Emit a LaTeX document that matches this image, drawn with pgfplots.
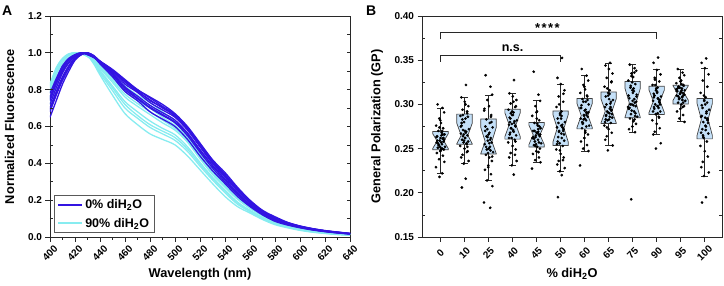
\documentclass[border=0pt]{standalone}
\usepackage{fontspec}
\setmainfont{Liberation Sans}
\usepackage{pgfplots}
\usepackage{pgfplotstable}
\pgfplotsset{compat=1.18}
\definecolor{dblue}{RGB}{50,20,225}
\definecolor{lcyan}{RGB}{135,236,240}
\definecolor{boxfill}{RGB}{196,224,248}
\definecolor{boxedge}{RGB}{64,64,64}
\definecolor{axgray}{RGB}{40,40,40}

\pgfplotstableread{
x   b1    b2    b3    b4    b5    b6    b7    b8    b9    c1    c2    c3    c4    c5    c6    c7    c8    c9
400 0.78  0.75  0.72  0.70  0.68  0.65  0.74  0.69  0.76  0.83  0.81  0.78  0.76  0.74  0.72  0.79  0.75  0.82
405 0.86  0.84  0.81  0.79  0.77  0.74  0.83  0.78  0.85  0.92  0.90  0.88  0.86  0.84  0.82  0.89  0.85  0.91
410 0.93  0.91  0.89  0.87  0.85  0.83  0.90  0.86  0.92  0.97  0.96  0.945 0.93  0.915 0.90  0.95  0.92  0.965
415 0.97  0.96  0.945 0.93  0.915 0.90  0.95  0.925 0.965 0.995 0.99  0.985 0.975 0.97  0.96  0.99  0.97  0.992
420 0.99  0.985 0.98  0.975 0.965 0.96  0.985 0.97  0.99  1.0   1.0   1.0   0.995 0.995 0.99  1.0   0.995 1.0
425 1.0   1.0   0.995 0.995 0.99  0.99  1.0   0.99  1.0   1.0   0.995 0.995 1.0   1.0   1.0   0.995 1.0   0.998
430 0.99  0.995 1.0   1.0   1.0   1.0   0.995 1.0   0.99  0.99  0.985 0.98  0.985 0.985 0.985 0.98  0.985 0.988
435 0.975 0.975 0.98  0.985 0.98  0.98  0.98  0.985 0.975 0.97  0.96  0.955 0.95  0.945 0.94  0.955 0.948 0.965
440 0.955 0.95  0.95  0.955 0.945 0.94  0.955 0.95  0.95  0.94  0.925 0.915 0.905 0.89  0.88  0.92  0.898 0.933
450 0.91  0.90  0.895 0.89  0.88  0.87  0.905 0.885 0.905 0.88  0.86  0.84  0.82  0.795 0.77  0.85  0.81  0.87
460 0.855 0.84  0.83  0.815 0.80  0.79  0.845 0.81  0.85  0.82  0.79  0.76  0.735 0.70  0.67  0.775 0.72  0.805
470 0.80  0.79  0.785 0.765 0.75  0.74  0.795 0.755 0.80  0.77  0.74  0.71  0.68  0.645 0.61  0.725 0.66  0.755
480 0.76  0.745 0.73  0.715 0.70  0.68  0.74  0.705 0.755 0.73  0.70  0.665 0.63  0.595 0.56  0.68  0.61  0.715
490 0.72  0.70  0.69  0.675 0.66  0.64  0.705 0.665 0.71  0.68  0.65  0.62  0.59  0.56  0.53  0.635 0.575 0.665
500 0.67  0.66  0.65  0.635 0.62  0.60  0.655 0.625 0.665 0.63  0.605 0.58  0.555 0.525 0.50  0.59  0.54  0.618
510 0.60  0.59  0.58  0.565 0.55  0.53  0.585 0.56  0.595 0.56  0.54  0.515 0.49  0.465 0.44  0.525 0.478 0.55
520 0.51  0.50  0.49  0.475 0.46  0.44  0.495 0.47  0.505 0.46  0.445 0.425 0.405 0.385 0.365 0.435 0.395 0.452
530 0.42  0.41  0.40  0.39  0.375 0.36  0.405 0.385 0.415 0.37  0.355 0.34  0.325 0.31  0.29  0.35  0.318 0.362
540 0.35  0.335 0.325 0.315 0.30  0.29  0.33  0.31  0.34  0.30  0.285 0.27  0.255 0.24  0.22  0.275 0.248 0.292
550 0.27  0.26  0.25  0.24  0.23  0.22  0.255 0.235 0.265 0.23  0.22  0.205 0.19  0.178 0.165 0.21  0.185 0.225
560 0.20  0.19  0.185 0.178 0.17  0.165 0.188 0.175 0.195 0.175 0.165 0.155 0.145 0.137 0.13  0.16  0.141 0.17
570 0.145 0.14  0.135 0.13  0.125 0.12  0.138 0.128 0.142 0.13  0.122 0.115 0.107 0.10  0.095 0.118 0.104 0.126
580 0.11  0.10  0.098 0.094 0.09  0.085 0.10  0.092 0.105 0.094 0.088 0.083 0.077 0.072 0.067 0.085 0.075 0.091
590 0.08  0.077 0.074 0.071 0.068 0.065 0.075 0.07  0.078 0.07  0.066 0.062 0.057 0.053 0.05  0.064 0.055 0.068
600 0.06  0.058 0.056 0.054 0.052 0.05  0.057 0.053 0.059 0.052 0.049 0.046 0.042 0.039 0.036 0.047 0.04  0.05
610 0.046 0.044 0.043 0.041 0.04  0.038 0.043 0.04  0.045 0.04  0.037 0.034 0.031 0.028 0.026 0.035 0.03  0.038
620 0.035 0.034 0.033 0.031 0.03  0.029 0.033 0.031 0.034 0.03  0.027 0.025 0.023 0.021 0.019 0.026 0.022 0.028
630 0.027 0.026 0.025 0.024 0.023 0.022 0.025 0.023 0.026 0.022 0.02  0.018 0.016 0.015 0.013 0.019 0.016 0.021
640 0.02  0.019 0.018 0.017 0.017 0.016 0.018 0.017 0.019 0.015 0.014 0.012 0.011 0.01  0.009 0.013 0.011 0.014
}\spec

\pgfplotstableread{
ja    jb    c0    c1    c2     c3     c4     c5     c6     c7     c8     c9    c10    c11
-0.12 0.06  0.300 0.322 0.333  0.3275 0.337  0.3526 0.340  0.347  0.345  0.353 0.340  0.352
0.08  -0.13 0.296 0.308 0.320  0.3125 0.311  0.330  0.3325 0.344  0.341  0.347 0.336  0.347
0.15  0.01  0.291 0.303 0.311  0.309  0.304  0.323  0.327  0.340  0.338  0.339 0.333  0.341
-0.05 0.16  0.284 0.298 0.305  0.305  0.298  0.316  0.322  0.335  0.335  0.334 0.330  0.334
0.02  -0.08 0.279 0.294 0.298  0.301  0.292  0.309  0.317  0.330  0.331  0.330 0.327  0.327
-0.18 0.11  0.276 0.290 0.293  0.297  0.287  0.303  0.313  0.325  0.327  0.326 0.324  0.320
0.11  -0.17 0.273 0.287 0.288  0.294  0.282  0.297  0.309  0.320  0.323  0.322 0.322  0.313
-0.09 0.04  0.270 0.284 0.283  0.291  0.279  0.292  0.306  0.316  0.319  0.319 0.320  0.308
0.05  -0.02 0.268 0.280 0.279  0.288  0.276  0.288  0.303  0.313  0.315  0.316 0.318  0.304
0.17  -0.12 0.266 0.276 0.274  0.285  0.273  0.284  0.300  0.309  0.311  0.312 0.316  0.299
-0.14 0.18  0.264 0.272 0.270  0.282  0.270  0.280  0.296  0.305  0.307  0.309 0.315  0.294
0.00  0.07  0.262 0.269 0.266  0.279  0.268  0.277  0.293  0.301  0.304  0.306 0.314  0.290
0.09  -0.15 0.261 0.267 0.262  0.277  0.266  0.274  0.290  0.297  0.302  0.304 0.313  0.286
-0.03 0.12  0.259 0.265 0.259  0.275  0.265  0.272  0.288  0.294  0.300  0.302 0.312  0.283
0.13  -0.06 0.258 0.264 0.257  0.273  0.264  0.270  0.286  0.292  0.298  0.300 0.311  0.280
-0.16 0.03  0.257 0.262 0.255  0.271  0.262  0.267  0.284  0.290  0.295  0.298 0.310  0.276
0.06  -0.10 0.255 0.260 0.252  0.268  0.260  0.263  0.282  0.288  0.292  0.295 0.308  0.272
-0.07 0.15  0.254 0.258 0.249  0.265  0.258  0.259  0.279  0.285  0.289  0.292 0.306  0.267
0.19  -0.04 0.252 0.257 0.246  0.262  0.256  0.256  0.276  0.282  0.286  0.289 0.304  0.262
-0.11 0.09  0.251 0.255 0.243  0.260  0.254  0.253  0.273  0.279  0.284  0.286 0.302  0.258
0.03  -0.18 0.250 0.253 0.240  0.257  0.252  0.249  0.270  0.276  0.281  0.282 0.300  0.253
0.14  0.00  0.249 0.250 0.236  0.253  0.250  0.244  0.266  0.272  0.278  0.278 0.298  0.247
-0.01 0.13  0.247 0.247 0.231  0.249  0.247  0.240  0.262  0.268  0.275  0.273 0.295  0.241
-0.15 -0.08 0.245 0.243 0.226  0.245  0.244  0.236  0.258  0.264  0.272  0.269 0.292  0.235
0.10  -0.14 0.242 0.240 0.221  0.240  0.240  0.232  0.254  0.260  0.2686 0.266 0.288  0.229
-0.06 0.17  0.238 0.236 0.214  0.236  0.237  0.228  0.250  0.2536 0.1926 0.256 0.284  0.223
0.16  -0.03 0.235 0.233 0.2075 0.231  0.2345 0.2244 0.2472 0.248  0.309  0.250 0.2802 0.219
-0.19 0.05  0.229 0.216 0.189  0.2206 0.2274 0.220  0.231  0.295  0.297  0.307 0.317  0.195
0.07  -0.11 0.222 0.206 0.183  0.280  0.269  0.1951 0.291  0.287  0.336  0.297 0.309  0.189
-0.04 0.02  0.218 0.270 0.263  0.270  0.263  0.276  0.283  0.283  0.293  0.313 0.319  0.285
0.04  -0.09 0.265 0.283 0.268  0.284  0.268  0.279  0.294  0.300  0.318  0.310 0.316  0.296
-0.10 0.05  0.256 0.268 0.252  0.269  0.261  0.262  0.280  0.286  0.300  0.298 0.309  0.275
0.12  -0.02 0.262 0.259 0.280  0.292  0.275  0.290  0.305  0.310  0.290  0.318 0.321  0.305
-0.02 0.11  0.252 0.292 0.245  0.276  0.255  0.270  0.287  0.293  0.325  0.303 0.312  0.284
0.07  -0.15 0.270 0.275 0.260  0.262  0.272  0.255  0.275  0.280  0.306  0.292 0.305  0.268
-0.13 0.02  0.259 0.262 0.275  0.288  0.263  0.284  0.299  0.306  0.296  0.314 0.318  0.300
0.01  0.14  0.248 0.286 0.250  0.298  0.284  0.266  0.284  0.289  0.313  0.300 0.314  0.279
0.10  -0.06 0.266 0.271 0.286  0.273  0.257  0.300  0.310  0.318  0.287  0.322 0.302  0.263
-0.08 0.08  0.254 0.256 0.264  0.281  0.270  0.274  0.278  0.297  0.321  0.296 0.320  0.292
0.15  -0.12 0.260 0.279 0.241  0.266  0.266  0.258  0.291  0.283  0.303  0.308 0.311  0.287
-0.05 0.04  0.274 0.300 0.272  0.303  0.253  0.287  0.303  0.312  0.332  0.290 0.307  0.271
0.03  -0.03 0.257 0.266 0.256  0.278  0.278  0.248  0.268  0.291  0.299  0.316 0.323  0.310
-0.17 0.12  0.263 0.252 0.295  0.258  0.262  0.312  0.296  0.326  0.310  0.305 0.315  0.282
0.08  -0.07 0.250 0.288 0.248  0.290  0.246  0.269  0.288  0.274  0.283  0.328 0.297  0.265
-0.01 0.10  0.282 0.246 0.229  0.243  0.291  0.237  0.320  0.303  0.316  0.285 0.326  0.302
}\gp

\pgfplotsset{
  base/.style={scale only axis, width=300pt, height=221pt, anchor=south west},
  main/.style={base, tick align=outside, tick pos=left,
    /pgf/number format/assume math mode=true,
    ticklabel style={font=\bfseries\fontsize{10}{12}\selectfont},
    label style={font=\bfseries\fontsize{12.8}{15}\selectfont},
    axis line style={line width=0.8pt, axgray},
    every tick/.style={axgray, line width=0.8pt},
    major tick length=4.5pt, minor tick length=2.5pt,
    xticklabel style={yshift=-11.5pt, rotate=45, anchor=center},
    xlabel style={at={(axis description cs:0.5,-0.168)}, anchor=center},
  },
  mirror/.style={base, axis x line=none, axis y line=box, tick align=inside,
    ytick pos=both, yticklabels={}, axis line style={draw=none},
    major tick length=3pt, every tick/.style={axgray, line width=0.7pt}},
  spc/.style={#1, line width=1.3pt, smooth, forget plot},
}

\begin{document}
\begin{tikzpicture}
\useasboundingbox (0,0) rectangle (724pt,285pt);
\node[anchor=base west, inner sep=0pt, font=\bfseries\fontsize{14}{16}\selectfont] at (2pt,270pt) {A};
\node[anchor=base west, inner sep=0pt, font=\bfseries\fontsize{14}{16}\selectfont] at (366pt,270pt) {B};

% ---------------- Panel A ----------------
\begin{axis}[main, at={(50pt,48pt)},
  xmin=400, xmax=640, ymin=0, ymax=1.2,
  xtick={400,420,440,460,480,500,520,540,560,580,600,620,640}, minor x tick num=1,
  ytick={0,0.2,0.4,0.6,0.8,1.0,1.2},
  yticklabel style={/pgf/number format/fixed, /pgf/number format/fixed zerofill, /pgf/number format/precision=1},
  xlabel={Wavelength (nm)}, ylabel={Normalized Fluorescence},
  ylabel style={at={(axis description cs:-0.135,0.5)}, anchor=center},
  legend style={at={(0.013,0.018)}, anchor=south west, draw=gray!70!black, line width=0.8pt,
    fill=white, font=\bfseries\fontsize{12.5}{14}\selectfont, inner xsep=3pt, inner ysep=2pt,
    row sep=4pt},
  legend cell align=left,
  legend image code/.code={\draw[#1] (0pt,0pt) -- (24pt,0pt);},
]
\addlegendimage{dblue, line width=2pt}
\addlegendentry{0\% diH\textsubscript{2}O}
\addlegendimage{lcyan, line width=2pt}
\addlegendentry{90\% diH\textsubscript{2}O}
\addplot[spc=lcyan] table[x=x, y=c1] {\spec};
\addplot[spc=lcyan] table[x=x, y=c2] {\spec};
\addplot[spc=lcyan] table[x=x, y=c3] {\spec};
\addplot[spc=lcyan] table[x=x, y=c4] {\spec};
\addplot[spc=lcyan] table[x=x, y=c5] {\spec};
\addplot[spc=lcyan] table[x=x, y=c6] {\spec};
\addplot[spc=lcyan] table[x=x, y=c7] {\spec};
\addplot[spc=lcyan] table[x=x, y=c8] {\spec};
\addplot[spc=lcyan] table[x=x, y=c9] {\spec};
\addplot[spc=dblue] table[x=x, y=b1] {\spec};
\addplot[spc=dblue] table[x=x, y=b2] {\spec};
\addplot[spc=dblue] table[x=x, y=b3] {\spec};
\addplot[spc=dblue] table[x=x, y=b4] {\spec};
\addplot[spc=dblue] table[x=x, y=b5] {\spec};
\addplot[spc=dblue] table[x=x, y=b6] {\spec};
\addplot[spc=dblue] table[x=x, y=b7] {\spec};
\addplot[spc=dblue] table[x=x, y=b8] {\spec};
\addplot[spc=dblue] table[x=x, y=b9] {\spec};
\end{axis}
\begin{axis}[mirror, at={(50pt,48pt)}, xmin=400, xmax=640, ymin=0, ymax=1.2,
  ytick={0,0.1,0.2,0.3,0.4,0.5,0.6,0.7,0.8,0.9,1.0,1.1,1.2}]
\end{axis}

% ---------------- Panel B ----------------
\begin{axis}[main, at={(422pt,48pt)},
  xmin=-0.77, xmax=11.72, ymin=0.15, ymax=0.40,
  xtick={0,1,2,3,4,5,6,7,8,9,10,11},
  xticklabels={0,10,25,40,45,50,60,65,75,90,95,100},
  ytick={0.15,0.20,0.25,0.30,0.35,0.40},
  yticklabel style={/pgf/number format/fixed, /pgf/number format/fixed zerofill, /pgf/number format/precision=2},
  xlabel={\% diH\textsubscript{2}O}, ylabel={General Polarization (GP)},
  ylabel style={at={(axis description cs:-0.15,0.5)}, anchor=center},
]
% whiskers
\addplot[axgray, line width=0.9pt, unbounded coords=jump, forget plot] coordinates {
(0,0.2218) (0,0.2956) (0,nan)
(1,0.233) (1,0.308) (1,nan)
(2,0.2143) (2,0.3106) (2,nan)
(3,0.231) (3,0.3125) (3,nan)
(4,0.2345) (4,0.304) (4,nan)
(5,0.2244) (5,0.323) (5,nan)
(6,0.2472) (6,0.3325) (6,nan)
(7,0.2536) (7,0.346) (7,nan)
(8,0.2686) (8,0.345) (8,nan)
(9,0.266) (9,0.339) (9,nan)
(10,0.2802) (10,0.340) (10,nan)
(11,0.219) (11,0.341)
};
\addplot[axgray, line width=0.9pt, unbounded coords=jump, forget plot] coordinates {
(-0.15,0.2218) (0.15,0.2218) (0,nan) (-0.15,0.2956) (0.15,0.2956) (0,nan)
(0.85,0.233) (1.15,0.233) (1,nan) (0.85,0.308) (1.15,0.308) (1,nan)
(1.85,0.2143) (2.15,0.2143) (2,nan) (1.85,0.3106) (2.15,0.3106) (2,nan)
(2.85,0.231) (3.15,0.231) (3,nan) (2.85,0.3125) (3.15,0.3125) (3,nan)
(3.85,0.2345) (4.15,0.2345) (4,nan) (3.85,0.304) (4.15,0.304) (4,nan)
(4.85,0.2244) (5.15,0.2244) (5,nan) (4.85,0.323) (5.15,0.323) (5,nan)
(5.85,0.2472) (6.15,0.2472) (6,nan) (5.85,0.3325) (6.15,0.3325) (6,nan)
(6.85,0.2536) (7.15,0.2536) (7,nan) (6.85,0.346) (7.15,0.346) (7,nan)
(7.85,0.2686) (8.15,0.2686) (8,nan) (7.85,0.345) (8.15,0.345) (8,nan)
(8.85,0.266) (9.15,0.266) (9,nan) (8.85,0.339) (9.15,0.339) (9,nan)
(9.85,0.2802) (10.15,0.2802) (10,nan) (9.85,0.340) (10.15,0.340) (10,nan)
(10.85,0.219) (11.15,0.219) (11,nan) (10.85,0.341) (11.15,0.341)
};
% notched boxes
\addplot[fill=boxfill, draw=boxedge, line width=0.7pt, forget plot] coordinates {(-0.32,0.2488) (0.32,0.2488) (0.32,0.2503) (0.14,0.2585) (0.32,0.2667) (0.32,0.2694) (-0.32,0.2694) (-0.32,0.2667) (-0.14,0.2585) (-0.32,0.2503)} -- cycle;
\addplot[fill=boxfill, draw=boxedge, line width=0.7pt, forget plot] coordinates {(0.68,0.2550) (1.32,0.2550) (1.32,0.2555) (1.14,0.2650) (1.32,0.2786) (1.32,0.2890) (0.68,0.2890) (0.68,0.2786) (0.86,0.2650) (0.68,0.2555)} -- cycle;
\addplot[fill=boxfill, draw=boxedge, line width=0.7pt, forget plot] coordinates {(1.68,0.2440) (2.32,0.2440) (2.32,0.2445) (2.14,0.2580) (2.32,0.2738) (2.32,0.2836) (1.68,0.2836) (1.68,0.2738) (1.86,0.2580) (1.68,0.2445)} -- cycle;
\addplot[fill=boxfill, draw=boxedge, line width=0.7pt, forget plot] coordinates {(2.68,0.2607) (3.32,0.2607) (3.32,0.2635) (3.14,0.2770) (3.32,0.2905) (3.32,0.2945) (2.68,0.2945) (2.68,0.2905) (2.86,0.2770) (2.68,0.2635)} -- cycle;
\addplot[fill=boxfill, draw=boxedge, line width=0.7pt, forget plot] coordinates {(3.68,0.2518) (4.32,0.2518) (4.32,0.2545) (4.14,0.2656) (4.32,0.2767) (4.32,0.2795) (3.68,0.2795) (3.68,0.2767) (3.86,0.2656) (3.68,0.2545)} -- cycle;
\addplot[fill=boxfill, draw=boxedge, line width=0.7pt, forget plot] coordinates {(4.68,0.2536) (5.32,0.2536) (5.32,0.2574) (5.14,0.2730) (5.32,0.2886) (5.32,0.2926) (4.68,0.2926) (4.68,0.2886) (4.86,0.2730) (4.68,0.2574)} -- cycle;
\addplot[fill=boxfill, draw=boxedge, line width=0.7pt, forget plot] coordinates {(5.68,0.2723) (6.32,0.2723) (6.32,0.2737) (6.14,0.2874) (6.32,0.3011) (6.32,0.3066) (5.68,0.3066) (5.68,0.3011) (5.86,0.2874) (5.68,0.2737)} -- cycle;
\addplot[fill=boxfill, draw=boxedge, line width=0.7pt, forget plot] coordinates {(6.68,0.2784) (7.32,0.2784) (7.32,0.2789) (7.14,0.2923) (7.32,0.3065) (7.32,0.3140) (6.68,0.3140) (6.68,0.3065) (6.86,0.2923) (6.68,0.2789)} -- cycle;
\addplot[fill=boxfill, draw=boxedge, line width=0.7pt, forget plot] coordinates {(7.68,0.2848) (8.32,0.2848) (8.32,0.2852) (8.14,0.3017) (8.32,0.3182) (8.32,0.3260) (7.68,0.3260) (7.68,0.3182) (7.86,0.3017) (7.68,0.2852)} -- cycle;
\addplot[fill=boxfill, draw=boxedge, line width=0.7pt, forget plot] coordinates {(8.68,0.2885) (9.32,0.2885) (9.32,0.2908) (9.14,0.3036) (9.32,0.3164) (9.32,0.3205) (8.68,0.3205) (8.68,0.3164) (8.86,0.3036) (8.68,0.2908)} -- cycle;
\addplot[fill=boxfill, draw=boxedge, line width=0.7pt, forget plot] coordinates {(9.68,0.3005) (10.32,0.3005) (10.32,0.3046) (10.14,0.3130) (10.32,0.3211) (10.32,0.3216) (9.68,0.3216) (9.68,0.3211) (9.86,0.3130) (9.68,0.3046)} -- cycle;
\addplot[fill=boxfill, draw=boxedge, line width=0.7pt, forget plot] coordinates {(10.68,0.2610) (11.32,0.2610) (11.32,0.2648) (11.14,0.2830) (11.32,0.3012) (11.32,0.3066) (10.68,0.3066) (10.68,0.3012) (10.86,0.2830) (10.68,0.2648)} -- cycle;
% data points
\pgfplotsset{ptstyle/.style={only marks, mark=*, mark size=1.15pt, black, forget plot}}
\addplot[ptstyle] table[x expr=\thisrow{ja}+0,  y=c0]  {\gp};
\addplot[ptstyle] table[x expr=\thisrow{jb}+1,  y=c1]  {\gp};
\addplot[ptstyle] table[x expr=\thisrow{ja}+2,  y=c2]  {\gp};
\addplot[ptstyle] table[x expr=\thisrow{jb}+3,  y=c3]  {\gp};
\addplot[ptstyle] table[x expr=\thisrow{ja}+4,  y=c4]  {\gp};
\addplot[ptstyle] table[x expr=\thisrow{jb}+5,  y=c5]  {\gp};
\addplot[ptstyle] table[x expr=\thisrow{ja}+6,  y=c6]  {\gp};
\addplot[ptstyle] table[x expr=\thisrow{jb}+7,  y=c7]  {\gp};
\addplot[ptstyle] table[x expr=\thisrow{ja}+8,  y=c8]  {\gp};
\addplot[ptstyle] table[x expr=\thisrow{jb}+9,  y=c9]  {\gp};
\addplot[ptstyle] table[x expr=\thisrow{ja}+10, y=c10] {\gp};
\addplot[ptstyle] table[x expr=\thisrow{jb}+11, y=c11] {\gp};
% significance brackets
\draw[axgray, line width=1pt] (axis cs:0,0.3484) |- (axis cs:5,0.3556) -- (axis cs:5,0.3484);
\draw[axgray, line width=1pt] (axis cs:0,0.3737) |- (axis cs:9,0.3811) -- (axis cs:9,0.3737);
\node[font=\bfseries\fontsize{12.5}{14}\selectfont, anchor=base] at (axis cs:3,0.3595) {n.s.};
\node[font=\bfseries\fontsize{13}{14}\selectfont, anchor=base] at (axis cs:4.45,0.3815) {*\kern1.5pt*\kern1.5pt*\kern1.5pt*};
\end{axis}
\begin{axis}[mirror, at={(422pt,48pt)}, xmin=-0.77, xmax=11.72, ymin=0.15, ymax=0.40,
  ytick={0.175,0.225,0.275,0.325,0.375}]
\end{axis}
\end{tikzpicture}
\end{document}
